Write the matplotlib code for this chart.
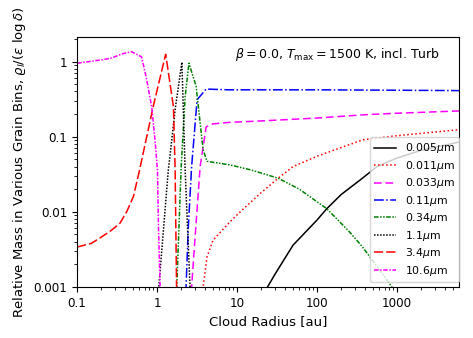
#!/usr/bin/env python3
"""
Relative mass in grain size bins vs cloud radius (log-log)
"""

import matplotlib
matplotlib.use('Agg')
import matplotlib.pyplot as plt

# grain sizes for the legend
grain_labels = ['0.005$\\mu$m', '0.011$\\mu$m', '0.033$\\mu$m', '0.11$\\mu$m',
                '0.34$\\mu$m', '1.1$\\mu$m', '3.4$\\mu$m', '10.6$\\mu$m']

# values (radius in au, relative mass)
r_005 = [20, 24, 30, 50, 100, 132, 200, 362, 560, 1000, 2000, 6000]
m_005 = [0.0006, 0.001, 0.0015, 0.0036, 0.0078, 0.011, 0.017, 0.0276, 0.040, 0.052, 0.066, 0.085]

r_011 = [3.6, 3.76, 4.2, 5, 8.2, 10.6, 20, 32.6, 50, 100, 375, 1000, 6000]
m_011 = [0.0003, 0.001, 0.0025, 0.0042, 0.0074, 0.0097, 0.018, 0.028, 0.040, 0.055, 0.091, 0.103, 0.124]

r_033 = [2.6, 2.7, 3.0, 3.45, 4.1, 5, 8, 20, 100, 400, 1000, 6000]
m_033 = [0.0003, 0.001, 0.005, 0.04, 0.135, 0.148, 0.155, 0.162, 0.177, 0.196, 0.205, 0.22]

r_11 = [2.25, 2.3, 2.45, 2.7, 3.16, 4.1, 8, 100, 1000, 6000]
m_11 = [0.0003, 0.001, 0.006, 0.04, 0.31, 0.43, 0.42, 0.42, 0.415, 0.41]

r_34 = [1.7, 1.76, 2.0, 2.24, 2.5, 3.07, 3.76, 4.2, 8.2, 15, 32.6, 60, 132, 250, 362, 600, 860, 1000]
m_34 = [0.0003, 0.001, 0.04, 0.34, 0.95, 0.47, 0.067, 0.047, 0.042, 0.036, 0.028, 0.02, 0.011,
        0.0055, 0.0035, 0.0017, 0.001, 0.0007]

r_1 = [1.0, 1.05, 1.38, 1.43, 1.68, 2.04, 2.24, 2.58, 2.7]
m_1 = [0.0003, 0.001, 0.036, 0.049, 0.23, 0.98, 0.036, 0.001, 0.0003]

r_3 = [0.1, 0.15, 0.194, 0.27, 0.345, 0.42, 0.506, 0.6, 0.9, 1.28, 1.6, 1.68, 1.75, 1.8]
m_3 = [0.0034, 0.0038, 0.0045, 0.0057, 0.0071, 0.0102, 0.016, 0.035, 0.26, 1.25, 0.25, 0.036, 0.001, 0.0003]

r_106 = [0.1, 0.145, 0.26, 0.38, 0.48, 0.64, 0.74, 0.86, 0.94, 1.01, 1.04, 1.09, 1.12]
m_106 = [0.95, 1.0, 1.1, 1.28, 1.35, 1.15, 0.58, 0.24, 0.091, 0.036, 0.0064, 0.001, 0.0003]

radii = [r_005, r_011, r_033, r_11, r_34, r_1, r_3, r_106]
masses = [m_005, m_011, m_033, m_11, m_34, m_1, m_3, m_106]

colors = ['black', 'red', 'magenta', 'blue', 'green', 'black', 'red', 'magenta']
styles = ['-', ':', (0, (5, 2.5)), '-.', (0, (3, 1, 1, 1, 1, 1)), (0, (1, 1)),
          (0, (6, 2)), (0, (3, 1, 1, 1))]


def main():
    fig = plt.figure(figsize=(4.73, 3.38), dpi=100)
    ax = fig.add_subplot(111)
    fig.subplots_adjust(left=0.163, right=0.970, bottom=0.151, top=0.891)

    for r, m, c, ls, lab in zip(radii, masses, colors, styles, grain_labels):
        ax.plot(r, m, color=c, linestyle=ls, linewidth=1.1, label=lab)

    ax.set_xscale('log')
    ax.set_yscale('log')
    ax.set_xlim(0.1, 5900)
    ax.set_ylim(0.001, 2.13)

    ax.set_xticks([0.1, 1, 10, 100, 1000])
    ax.set_xticklabels(['0.1', '1', '10', '100', '1000'])
    ax.set_yticks([0.001, 0.01, 0.1, 1])
    ax.set_yticklabels(['0.001', '0.01', '0.1', '1'])
    ax.tick_params(labelsize=8.6)

    ax.set_xlabel('Cloud Radius [au]', fontsize=9.5)
    ax.set_ylabel('Relative Mass in Various Grain Bins, $\\varrho_l/(\\epsilon\\ \\log\\delta)$',
                  fontsize=9.5)

    ax.text(0.95, 0.93, '$\\beta = 0.0$, $T_{\\rm max} = 1500$ K, incl. Turb',
            transform=ax.transAxes, ha='right', va='center', fontsize=9.0)

    ax.legend(loc='lower right', fontsize=7.8, borderaxespad=0.0, labelspacing=0.32,
              bbox_to_anchor=(1.0, 0.02))

    fig.savefig('out.png', dpi=100, facecolor='white')


if __name__ == "__main__":
    main()
